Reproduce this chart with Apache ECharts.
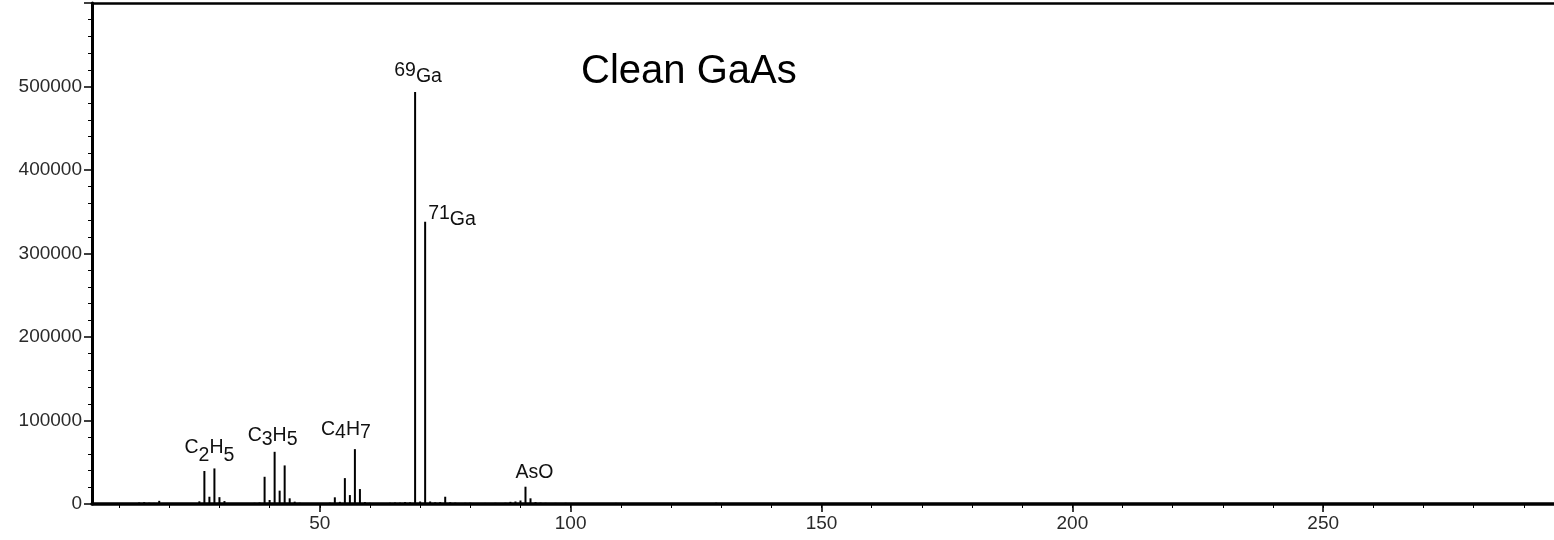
<!DOCTYPE html>
<html>
<head>
<meta charset="utf-8">
<script src="https://cdn.jsdelivr.net/npm/echarts@6/dist/echarts.min.js"></script>
<style>
  html, body { margin: 0; padding: 0; background: #fff; }
  #chart { width: 1554px; height: 540px; }
</style>
</head>
<body>
<div id="chart"></div>
<script>
// Mass spectrum of a clean GaAs surface: ion counts per mass (amu)
const masses = [
  12, 13, 14, 15, 16, 17, 18, 19, 20, 24, 25, 26, 27, 28, 29, 30, 31, 32,
  36, 37, 38, 39, 40, 41, 42, 43, 44, 45, 46, 48, 50, 51, 52, 53, 54, 55,
  56, 57, 58, 59, 60, 62, 63, 64, 65, 66, 67, 68, 69, 70, 71, 72, 73, 74,
  75, 76, 77, 78, 79, 80, 81, 82, 83, 84, 85, 86, 87, 88, 89, 90, 91, 92,
  93, 94, 95, 96, 97, 98, 99, 101, 102, 104, 105, 107, 109, 110, 112, 113,
  115, 117, 119, 121, 123, 128, 129, 131, 155, 157, 200, 202
];
const counts = [
  1200, 900, 1800, 2200, 1500, 1300, 3800, 1000, 900, 1000, 1200, 3200, 39500, 8700, 42600, 8200, 3500, 1200,
  1000, 1400, 1800, 32600, 4800, 62500, 16000, 46200, 6800, 2800, 1500, 900, 1200, 1000, 1600, 8000, 2600, 31000,
  10700, 65700, 17900, 2200, 1400, 1000, 1200, 1500, 1800, 1600, 2400, 2000, 493400, 3000, 338100, 3000, 2000, 2200,
  8700, 2000, 1600, 1200, 1400, 1500, 1200, 1000, 1300, 1100, 1400, 1200, 1500, 2600, 3000, 4200, 20700, 6800,
  2200, 1600, 1400, 1200, 1300, 1000, 1400, 1200, 1000, 1100, 1200, 1000, 1300, 900, 1000, 1200,
  1000, 1100, 900, 1200, 1000, 900, 1500, 1100, 1200, 1000, 1100, 900
];

// Peak assignments written next to their sticks
const peakLabelMasses = [29, 41, 57, 69, 71, 91];
const peakLabelTexts = [
  '{n|C}{s|2}{n|H}{s|5}',
  '{n|C}{m|3}{n|H}{m|5}',
  '{n|C}{t|4}{n|H}{t|7}',
  '{n|69}{g|Ga}',
  '{n|71}{g|Ga}',
  '{n|AsO}'
];

// Axis tick values
const xLabelValues = [50, 100, 150, 200, 250];
const xMinorValues = [10, 20, 30, 40, 50, 60, 70, 80, 90, 100, 110, 120, 130, 140, 150, 160, 170,
  180, 190, 200, 210, 220, 230, 240, 250, 260, 270, 280, 290];

const FONT = '"Liberation Sans", Arial, sans-serif';
const INK = '#111';

// label anchor relative to the top of its stick: [dx, dy], horizontal alignment
const labelPlacement = {
  29: { pos: [-4, -3], align: 'center' },
  41: { pos: [-1, -2], align: 'center' },
  57: { pos: [-8, -7], align: 'center' },
  69: { pos: [4, -5], align: 'center' },
  71: { pos: [4, 8], align: 'left' },
  91: { pos: [10, -4], align: 'center' }
};

const tok = (lh, va) => ({ fontSize: 19.5, fontFamily: FONT, color: INK, lineHeight: lh, verticalAlign: va });
const rich = {
  n: tok(20, 'top'),
  s: tok(28, 'bottom'),
  g: tok(26, 'bottom'),
  m: tok(24, 'bottom'),
  t: tok(23, 'bottom')
};

const stickData = masses.map((m, i) => {
  const k = peakLabelMasses.indexOf(m);
  if (k < 0) return [m, counts[i]];
  const p = labelPlacement[m];
  return {
    value: [m, counts[i]],
    label: {
      show: true,
      formatter: peakLabelTexts[k],
      position: p.pos,
      align: p.align,
      verticalAlign: 'bottom',
      color: INK,
      rich: rich
    }
  };
});

const X_MIN = 4.6, X_MAX = 296;

const chart = echarts.init(document.getElementById('chart'), null, { renderer: 'canvas' });
chart.setOption({
  animation: false,
  backgroundColor: '#fff',
  title: {
    text: 'Clean GaAs',
    left: 576,
    top: 47,
    textStyle: { fontFamily: FONT, fontSize: 40, fontWeight: 'normal', color: '#000' }
  },
  grid: { left: 92, right: 0, top: 3, bottom: 36 },
  xAxis: [
    {
      type: 'value', min: X_MIN, max: X_MAX, position: 'bottom',
      axisLine: { show: true, onZero: false, lineStyle: { color: '#000', width: 3.5 } },
      axisTick: { show: true, customValues: xMinorValues, length: 4, lineStyle: { color: '#000', width: 1 } },
      axisLabel: { show: false },
      splitLine: { show: false }
    },
    {
      type: 'value', min: X_MIN, max: X_MAX, position: 'bottom',
      axisLine: { show: false },
      axisTick: { show: true, customValues: xLabelValues, length: 8, lineStyle: { color: '#000', width: 1.5 } },
      axisLabel: {
        show: true, customValues: xLabelValues, margin: 10,
        fontFamily: FONT, fontSize: 19, color: '#2a2a2a'
      },
      splitLine: { show: false }
    },
    {
      type: 'value', min: X_MIN, max: X_MAX, position: 'top',
      axisLine: { show: true, onZero: false, lineStyle: { color: '#000', width: 2.5 } },
      axisTick: { show: false },
      axisLabel: { show: false },
      splitLine: { show: false }
    }
  ],
  yAxis: {
    type: 'value', min: 0, max: 600000, interval: 100000,
    axisLine: { show: true, onZero: false, lineStyle: { color: '#000', width: 3 } },
    axisTick: { show: true, length: 8, lineStyle: { color: '#000', width: 1.5 } },
    minorTick: { show: true, splitNumber: 5, length: 4, lineStyle: { color: '#000', width: 1 } },
    axisLabel: {
      showMaxLabel: false, margin: 10,
      fontFamily: FONT, fontSize: 19, color: '#2a2a2a',
      formatter: v => String(v)
    },
    splitLine: { show: false },
    minorSplitLine: { show: false }
  },
  series: [
    {
      type: 'bar',
      xAxisIndex: 0,
      data: stickData,
      barWidth: 2,
      itemStyle: { color: '#000' },
      silent: true
    }
  ]
});
</script>
</body>
</html>
